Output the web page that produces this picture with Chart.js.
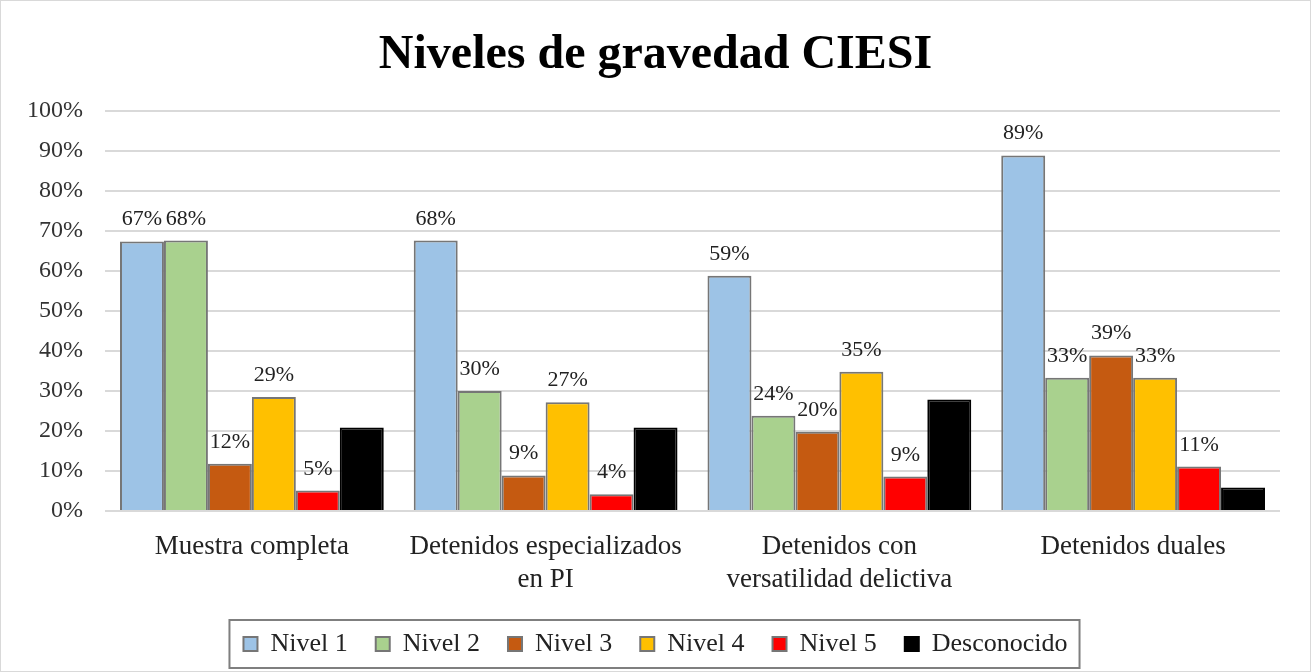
<!DOCTYPE html>
<html>
<head>
<meta charset="utf-8">
<script src="https://cdn.jsdelivr.net/npm/chart.js@4/dist/chart.umd.min.js"></script>
<style>
html,body{margin:0;padding:0;background:#fff;}
#wrap{position:absolute;left:0;top:0;width:1309px;height:670px;border:1px solid #d9d9d9;}
canvas{display:block;}
</style>
</head>
<body>
<div id="wrap"><canvas id="c" width="1309" height="670"></canvas></div>
<script>
const categories = ["Muestra completa", ["Detenidos especializados", "en PI"], ["Detenidos con", "versatilidad delictiva"], "Detenidos duales"];
const seriesNames = ["Nivel 1", "Nivel 2", "Nivel 3", "Nivel 4", "Nivel 5", "Desconocido"];
const nivel1 = [67.4, 67.6, 58.8, 88.9];
const nivel2 = [67.6, 30.0, 23.8, 33.3];
const nivel3 = [11.8, 8.9, 19.8, 38.9];
const nivel4 = [28.5, 27.2, 34.8, 33.3];
const nivel5 = [5.1, 4.2, 8.6, 11.1];
const desconocido = [20.9, 20.9, 27.9, 5.9];
const showLabel = [true, true, true, true, true, false];
const colors = ["#9DC3E6", "#A9D18E", "#C55A11", "#FFC000", "#FF0000", "#000000"];
const yTicks = [0,10,20,30,40,50,60,70,80,90,100];

const serif = "'Liberation Serif', 'DejaVu Serif', serif";
const allSeries = [nivel1, nivel2, nivel3, nivel4, nivel5, desconocido];

const labelPlugin = {
  id: 'valueLabels',
  afterDatasetsDraw(chart) {
    const ctx = chart.ctx;
    ctx.save();
    ctx.font = "22px " + serif;
    ctx.fillStyle = "#222";
    ctx.textAlign = "center";
    ctx.textBaseline = "alphabetic";
    chart.data.datasets.forEach((ds, i) => {
      if (!showLabel[i]) return;
      const meta = chart.getDatasetMeta(i);
      meta.data.forEach((bar, j) => {
        ctx.fillText(Math.round(ds.data[j]) + "%", bar.x, bar.y - 16);
      });
    });
    ctx.restore();
  },
  afterDraw(chart) {
    const lg = chart.legend;
    if (!lg || !lg.legendHitBoxes || !lg.legendHitBoxes.length) return;
    const hb = lg.legendHitBoxes;
    let minX = Infinity, maxX = -Infinity, minY = Infinity, maxY = -Infinity;
    hb.forEach(b => { minX = Math.min(minX, b.left); maxX = Math.max(maxX, b.left + b.width); minY = Math.min(minY, b.top); maxY = Math.max(maxY, b.top + b.height); });
    const cy = (minY + maxY) / 2;
    const ctx = chart.ctx;
    ctx.save();
    ctx.strokeStyle = "#7f7f7f";
    ctx.lineWidth = 2;
    ctx.strokeRect(minX - 14, cy - 24, (maxX - minX) + 26, 48);
    ctx.restore();
  }
};

new Chart(document.getElementById('c'), {
  type: 'bar',
  data: {
    labels: categories,
    datasets: allSeries.map((d, i) => ({
      label: seriesNames[i],
      data: d,
      backgroundColor: colors[i],
      borderColor: i === 5 ? "#000000" : "#767676",
      borderWidth: 2,
      borderSkipped: 'bottom',
      barPercentage: 1.0,
      categoryPercentage: 0.898
    }))
  },
  options: {
    responsive: false,
    animation: false,
    devicePixelRatio: 1,
    layout: { padding: { left: 0, right: 0, top: 8, bottom: 4 } },
    plugins: {
      title: {
        display: true,
        text: "Niveles de gravedad CIESI",
        font: { family: serif, size: 48, weight: 'bold' },
        color: "#000",
        padding: { top: 18, bottom: 26.4 }
      },
      legend: {
        position: 'bottom',
        labels: {
          font: { family: serif, size: 26 },
          color: "#222",
          boxWidth: 14,
          boxHeight: 14,
          padding: 28
        }
      },
      tooltip: { enabled: false }
    },
    scales: {
      x: {
        grid: { display: false },
        border: { display: false },
        afterFit(axis) { axis.height = 92; },
        ticks: { font: { family: serif, size: 27 }, color: "#222", maxRotation: 0, padding: 12 }
      },
      y: {
        min: 0, max: 100,
        afterBuildTicks(axis) { axis.ticks = yTicks.map(v => ({ value: v })); },
        afterFit(axis) { axis.width = 104; },
        grid: { color: "#d9d9d9", lineWidth: 2, drawTicks: false },
        border: { display: false },
        ticks: { font: { family: serif, size: 24 }, color: "#333", padding: 22, callback: v => v + "%" }
      },
      yRight: {
        type: 'linear',
        position: 'right',
        min: 0, max: 100,
        afterFit(axis) { axis.width = 30; },
        grid: { display: false, drawTicks: false },
        border: { display: false },
        ticks: { display: false }
      }
    }
  },
  plugins: [labelPlugin]
});
</script>
</body>
</html>
